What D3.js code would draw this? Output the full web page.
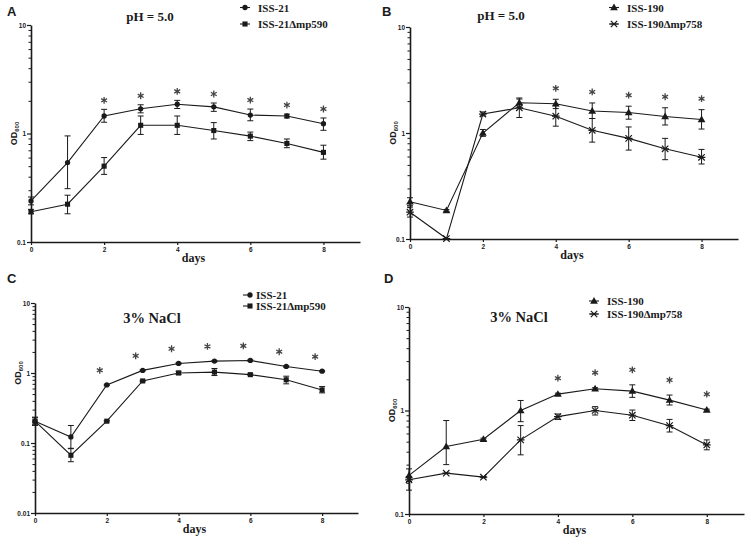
<!DOCTYPE html>
<html><head><meta charset="utf-8">
<script src="https://cdn.jsdelivr.net/npm/d3@7/dist/d3.min.js"></script>
<style>body{margin:0;background:#fff}svg{display:block}</style>
</head><body>
<svg id="c" width="751" height="555"></svg>
<script>
// ---------------- DATA ----------------
const days = [0,1,2,3,4,5,6,7,8];
const xTicks = [0,2,4,6,8];

// Panel A: pH = 5.0, ISS-21 vs ISS-21Δmp590
const aWt    = [0.239,0.54,1.45,1.69,1.86,1.76,1.48,1.45,1.23];
const aWtHi  = [0.26,0.95,1.67,1.84,2.02,1.91,1.68,1.51,1.39];
const aWtLo  = [0.22,0.31,1.27,1.55,1.70,1.60,1.31,1.39,1.07];
const aMut   = [0.19,0.223,0.50,1.19,1.19,1.065,0.946,0.81,0.67];
const aMutHi = [0.20,0.27,0.60,1.45,1.45,1.26,1.03,0.89,0.78];
const aMutLo = [0.182,0.182,0.42,0.98,0.98,0.89,0.86,0.74,0.58];
const aStars = [2,3,4,5,6,7,8];

// Panel B: pH = 5.0, ISS-190 vs ISS-190Δmp758
const bWt    = [0.225,0.186,1.0,1.93,1.89,1.61,1.56,1.43,1.34];
const bWtHi  = [0.245,0.19,1.08,2.14,2.08,1.92,1.79,1.73,1.66];
const bWtLo  = [0.206,0.182,0.93,1.76,1.70,1.37,1.35,1.19,1.09];
const bMut   = [0.179,0.101,1.51,1.73,1.44,1.06,0.89,0.71,0.59];
const bMutHi = [0.20,0.101,1.58,2.09,1.81,1.37,1.14,0.89,0.70];
const bMutLo = [0.161,0.101,1.45,1.40,1.16,0.82,0.69,0.56,0.51];
const bStars = [4,5,6,7,8];

// Panel C: 3% NaCl, ISS-21 vs ISS-21Δmp590
const cWt    = [0.205,0.122,0.675,1.09,1.37,1.48,1.51,1.24,1.06];
const cWtHi  = [0.234,0.178,0.69,1.11,1.40,1.51,1.54,1.27,1.08];
const cWtLo  = [0.178,0.084,0.66,1.07,1.34,1.45,1.48,1.21,1.04];
const cMut   = [0.205,0.0668,0.205,0.77,1.0,1.03,0.947,0.80,0.573];
const cMutHi = [0.23,0.083,0.21,0.79,1.06,1.16,0.97,0.90,0.64];
const cMutLo = [0.185,0.054,0.20,0.75,0.95,0.92,0.93,0.70,0.52];
const cStars = [2,3,4,5,6,7,8];

// Panel D: 3% NaCl, ISS-190 vs ISS-190Δmp758
const dWt    = [0.236,0.449,0.527,1.0,1.44,1.62,1.54,1.26,1.01];
const dWtHi  = [0.273,0.80,0.54,1.25,1.47,1.66,1.77,1.41,1.03];
const dWtLo  = [0.206,0.30,0.515,0.78,1.41,1.58,1.34,1.13,0.99];
const dMut   = [0.214,0.248,0.227,0.52,0.873,1.0,0.90,0.714,0.465];
const dMutHi = [0.23,0.25,0.23,0.715,0.925,1.09,1.01,0.82,0.52];
const dMutLo = [0.17,0.245,0.224,0.373,0.82,0.905,0.80,0.62,0.417];
const dStars = [4,5,6,7,8];

const yMajorAB = [0.1,1,10];
const yMajorC  = [0.01,0.1,1,10];

// ---------------- DRAWING ----------------
const svg = d3.select('#c');
const SERIF = '"Liberation Serif","Times New Roman",serif';
const SANS = '"Liberation Sans",Arial,sans-serif';
const INK = '#1a1a1a';

function starPath(s){ // x with horizontal bar
  const r = s;
  return `M${-r},${-r}L${r},${r}M${-r},${r}L${r},${-r}M${-r*1.2},0L${r*1.2},0`;
}
function asteriskPath(r){ // six-spoke asterisk
  let p = '';
  [90,30,150].forEach(a=>{
    const t = a*Math.PI/180, dx = r*Math.cos(t), dy = r*Math.sin(t);
    p += `M${-dx},${-dy}L${dx},${dy}`;
  });
  return p;
}
function drawMarker(g, type, cx, cy){
  if (type === 'star') {
    g.append('path').attr('d', starPath(3.2)).attr('transform',`translate(${cx},${cy})`)
      .attr('stroke', INK).attr('stroke-width',1.2).attr('fill','none');
  } else {
    const sym = type==='circle'?d3.symbolCircle: type==='square'?d3.symbolSquare: d3.symbolTriangle;
    const size = type==='circle'?22: type==='square'?26: 26;
    g.append('path').attr('d', d3.symbol().type(sym).size(size)()).attr('transform',`translate(${cx},${cy+(type==='triangle'?0.5:0)})`)
      .attr('fill', INK);
  }
}

function panel(cfg){
  const g = svg.append('g');
  const x = d3.scaleLinear().domain([0,9]).range([cfg.x0, cfg.x1]);
  const y = d3.scaleLog().domain([cfg.yMin,10]).range([cfg.yB, cfg.yT]);

  // panel letter
  g.append('text').attr('x',cfg.lx).attr('y',cfg.ly).text(cfg.letter)
    .attr('font-family',SANS).attr('font-weight','bold').attr('font-size',13).attr('fill',INK);

  // minor y ticks
  const minor = [];
  for (let e = Math.round(Math.log10(cfg.yMin)); e < 1; e++)
    for (let k = 2; k <= 9; k++) minor.push(k*Math.pow(10,e));
  const ym = g.append('g').attr('transform',`translate(${cfg.x0},0)`)
    .call(d3.axisLeft(y).tickValues(minor).tickSize(2.5).tickFormat(''));
  ym.select('.domain').remove();
  ym.selectAll('line').attr('stroke',INK).attr('stroke-width',1);

  const ya = g.append('g').attr('transform',`translate(${cfg.x0},0)`)
    .call(d3.axisLeft(y).tickValues(cfg.yMajor).tickSize(4).tickPadding(1).tickSizeOuter(0)
      .tickFormat(d=>String(d)));
  ya.select('.domain').attr('stroke',INK).attr('stroke-width',1.6);
  ya.selectAll('line').attr('stroke',INK).attr('stroke-width',1.2);
  ya.selectAll('text').attr('font-family',SANS).attr('font-weight','bold').attr('font-size',6.5).attr('fill',INK);

  const xa = g.append('g').attr('transform',`translate(0,${cfg.yB})`)
    .call(d3.axisBottom(x).tickValues(xTicks).tickSize(3).tickPadding(2).tickSizeOuter(0));
  xa.select('.domain').attr('stroke',INK).attr('stroke-width',1.6);
  xa.selectAll('line').attr('stroke',INK).attr('stroke-width',1.2);
  xa.selectAll('text').attr('font-family',SANS).attr('font-weight','bold').attr('font-size',6.5).attr('fill',INK);

  // axis titles
  g.append('text').attr('x',(cfg.x0+cfg.x1)/2 - 2).attr('y',cfg.yB+20).attr('text-anchor','middle')
    .attr('font-family',SERIF).attr('font-weight','bold').attr('font-size',12).attr('fill',INK).text('days');
  const od = g.append('text').attr('transform',`translate(${cfg.x0-14},${y(1)}) rotate(-90)`)
    .attr('text-anchor','middle').attr('font-family',SANS).attr('font-weight','bold').attr('font-size',9).attr('fill',INK);
  od.append('tspan').text('OD');
  od.append('tspan').attr('font-size',6).attr('dy',2).text('600');

  // title
  g.append('text').attr('x',cfg.tx).attr('y',cfg.ty).attr('text-anchor','middle')
    .attr('font-family',SERIF).attr('font-weight','bold').attr('font-size',cfg.tSize).attr('fill',INK).text(cfg.title);

  // series
  cfg.series.forEach(s=>{
    g.append('path').datum(days).attr('fill','none').attr('stroke',INK).attr('stroke-width',1.1)
      .attr('d', d3.line().x(d=>x(d)).y(d=>y(s.v[d])));
    days.forEach(d=>{
      const hi = s.hi[d], lo = s.lo[d];
      if (y(lo)-y(hi) > 1) {
        g.append('line').attr('x1',x(d)).attr('x2',x(d)).attr('y1',y(hi)).attr('y2',y(lo)).attr('stroke',INK).attr('stroke-width',1);
        [hi,lo].forEach(v=>g.append('line').attr('x1',x(d)-3).attr('x2',x(d)+3).attr('y1',y(v)).attr('y2',y(v)).attr('stroke',INK).attr('stroke-width',1));
      }
      drawMarker(g, s.marker, x(d), y(s.v[d]));
    });
  });

  // significance stars (drawn as six-spoke asterisks)
  cfg.stars.forEach(d=>{
    const top = Math.min(...cfg.series.map(s=>y(Math.max(s.hi[d], s.v[d]))));
    g.append('path').attr('d', asteriskPath(3.4))
      .attr('transform',`translate(${x(d)+cfg.starDx},${top-cfg.starGap})`)
      .attr('stroke','#444').attr('stroke-width',1.3).attr('fill','none');
  });

  // legend
  cfg.series.forEach((s,i)=>{
    const ly = cfg.legY[i];
    g.append('line').attr('x1',cfg.legX-cfg.legL).attr('x2',cfg.legX+cfg.legR).attr('y1',ly).attr('y2',ly).attr('stroke',INK).attr('stroke-width',1.1);
    drawMarker(g, s.marker, cfg.legX, ly);
    g.append('text').attr('x',cfg.legTx).attr('y',ly+4).attr('font-family',SERIF).attr('font-weight','bold')
      .attr('font-size',11).attr('fill',INK).text(s.name);
  });
}

panel({letter:'A', lx:7, ly:16, x0:31, x1:360, yT:25, yB:242, yMin:0.1, yMajor:yMajorAB,
  title:'pH = 5.0', tx:150, ty:21, tSize:13, starDx:0, starGap:9, stars:aStars,
  legX:245, legL:5, legR:5, legTx:258, legY:[7.5,24],
  series:[{name:'ISS-21',marker:'circle',v:aWt,hi:aWtHi,lo:aWtLo},
          {name:'ISS-21Δmp590',marker:'square',v:aMut,hi:aMutHi,lo:aMutLo}]});

panel({letter:'B', lx:382, ly:16, x0:410, x1:738, yT:27, yB:239, yMin:0.1, yMajor:yMajorAB,
  title:'pH = 5.0', tx:501, ty:20, tSize:13, starDx:0, starGap:11, stars:bStars,
  legX:614, legL:5, legR:5, legTx:627, legY:[7.5,24],
  series:[{name:'ISS-190',marker:'triangle',v:bWt,hi:bWtHi,lo:bWtLo},
          {name:'ISS-190Δmp758',marker:'star',v:bMut,hi:bMutHi,lo:bMutLo}]});

panel({letter:'C', lx:7, ly:283, x0:35, x1:358, yT:303, yB:513, yMin:0.01, yMajor:yMajorC,
  title:'3% NaCl', tx:152, ty:323, tSize:14.5, starDx:-7, starGap:14, stars:cStars,
  legX:250, legL:7, legR:2, legTx:256, legY:[295,306],
  series:[{name:'ISS-21',marker:'circle',v:cWt,hi:cWtHi,lo:cWtLo},
          {name:'ISS-21Δmp590',marker:'square',v:cMut,hi:cMutHi,lo:cMutLo}]});

panel({letter:'D', lx:384, ly:283, x0:409, x1:744, yT:307, yB:514, yMin:0.1, yMajor:yMajorAB,
  title:'3% NaCl', tx:519, ty:322, tSize:14.5, starDx:0, starGap:15, stars:dStars,
  legX:594, legL:5, legR:5, legTx:607, legY:[301,314],
  series:[{name:'ISS-190',marker:'triangle',v:dWt,hi:dWtHi,lo:dWtLo},
          {name:'ISS-190Δmp758',marker:'star',v:dMut,hi:dMutHi,lo:dMutLo}]});
</script>
</body></html>
